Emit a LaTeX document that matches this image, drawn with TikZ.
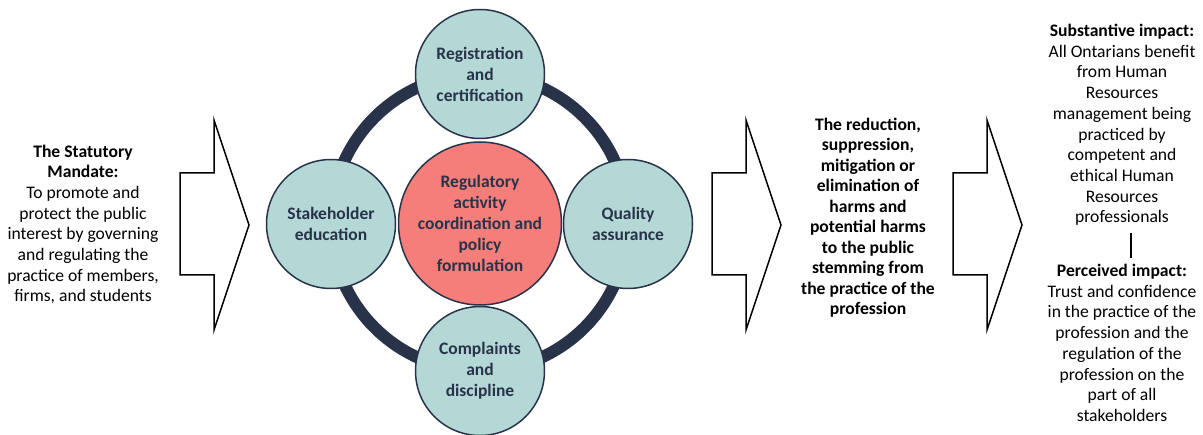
\documentclass[tikz,border=0pt]{standalone}
\usepackage{fontspec}
\setmainfont{Carlito}
\definecolor{navy}{HTML}{28334A}
\definecolor{tealfill}{HTML}{B3D8D6}
\definecolor{redfill}{HTML}{F57E7A}
\begin{document}
\begin{tikzpicture}[x=1pt,y=-1pt,
  txt/.style={align=center,inner sep=0pt,font=\fontsize{17.6}{20.7}\selectfont},
  satellite/.style={circle,draw=navy,line width=1.5pt,fill=tealfill,minimum size=129pt,inner sep=0pt,align=center,text=navy,font=\fontsize{17.5}{21}\selectfont\bfseries},
  hub/.style={circle,draw=navy,line width=1.5pt,fill=redfill,minimum size=163pt,inner sep=0pt,align=center,text=navy,font=\fontsize{17.5}{21}\selectfont\bfseries},
  blockarrow/.style={draw=black,line width=1.5pt,fill=white,line join=miter}]
\useasboundingbox (0,0) rectangle (1203,435);
\fill[white] (0,0) rectangle (1203,435);

% block arrows: rectangle shaft with triangular head
\foreach \x in {180,712,953}{
  \draw[blockarrow] (\x,173) -- (\x+34,173) -- (\x+34,120) -- (\x+69,225)
    -- (\x+34,330) -- (\x+34,275) -- (\x,275) -- cycle;
}

% ring linking the four functions
\draw[navy,line width=12pt] (479.5,222.5) circle[radius=148.5];

\node[hub] (hub) at (480,223.5) {Regulatory\\activity\\coordination and\\policy\\formulation};
\node[satellite] (reg) at (480,74) {Registration\\and\\certification};
\node[satellite] (edu) at (331,224) {Stakeholder\\education};
\node[satellite] (qa) at (628,224) {Quality\\assurance};
\node[satellite] (cd) at (480,371) {Complaints\\and\\discipline};

\node[txt] (mandate) at (83,224.5) {\textbf{The Statutory}\\\textbf{Mandate:}\\To promote and\\protect the public\\interest by governing\\and regulating the\\practice of members,\\firms, and students};

\node[txt,font=\fontsize{17.6}{20.5}\selectfont\bfseries] (harms) at (868,217.5) {The reduction,\\suppression,\\mitigation or\\elimination of\\harms and\\potential harms\\to the public\\stemming from\\the practice of the\\profession};

\node[txt,anchor=north] (sub) at (1122,24) {\textbf{Substantive impact:}\\All Ontarians benefit\\from Human\\Resources\\management being\\practiced by\\competent and\\ethical Human\\Resources\\professionals};
\node[txt,anchor=north] (per) at (1122,264) {\textbf{Perceived impact:}\\Trust and confidence\\in the practice of the\\profession and the\\regulation of the\\profession on the\\part of all\\stakeholders};

\coordinate (linetop) at (1131,233);
\coordinate (linebot) at (1131,258);
\draw[black,line width=1.4pt] (linetop) -- (linebot);
\end{tikzpicture}
\end{document}
